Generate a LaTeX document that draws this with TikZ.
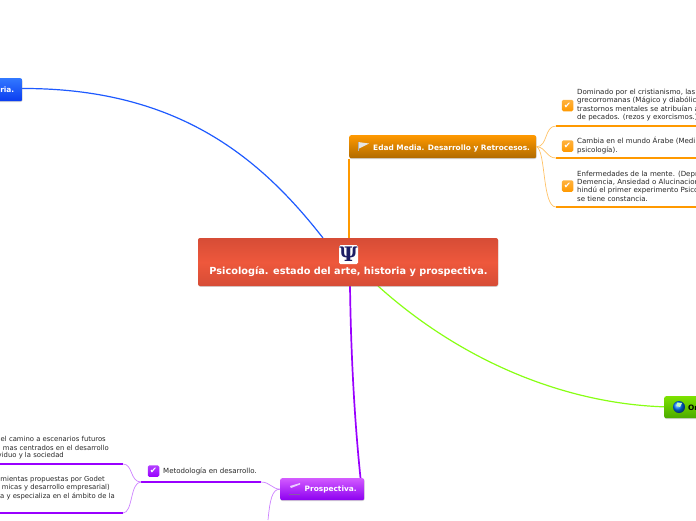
\documentclass[tikz,border=0pt]{standalone}
\usepackage{fontspec}
\setmainfont{DejaVu Sans}
\newfontfamily\psifont{DejaVu Serif}
\usetikzlibrary{calc,positioning,shadows}
\definecolor{mapred}{RGB}{238,88,60}
\definecolor{mapreddark}{RGB}{214,76,54}
\definecolor{maporange}{RGB}{255,153,0}
\definecolor{maporangedark}{RGB}{176,106,0}
\definecolor{mappurple}{RGB}{153,0,255}
\definecolor{mappurpletop}{RGB}{210,90,255}
\definecolor{mappurpledark}{RGB}{140,0,240}
\definecolor{mapblue}{RGB}{30,90,255}
\definecolor{mapbluetop}{RGB}{50,120,255}
\definecolor{mapbluedark}{RGB}{10,60,240}
\definecolor{mapgreen}{RGB}{136,255,20}
\definecolor{mapgreentop}{RGB}{125,225,0}
\definecolor{mapgreendark}{RGB}{75,170,0}
\definecolor{mappsi}{RGB}{30,30,100}
\definecolor{maptext}{RGB}{40,40,40}
\tikzset{
	boxbase/.style={rounded corners=2pt, inner sep=0pt, drop shadow={shadow xshift=0.4pt, shadow yshift=-0.8pt, opacity=0.35}},
	boxtext/.style={font=\fontsize{7.4}{9}\selectfont\bfseries, text=white, inner sep=0pt},
	leaftext/.style={font=\fontsize{7.05}{8.3}\selectfont, text=maptext, inner sep=0pt, align=left, anchor=west},
	cuttext/.style={font=\fontsize{6.85}{8.3}\selectfont, text=maptext, inner sep=0pt, anchor=east},
	checkicon/.style={rounded corners=1.5pt, minimum size=11.5pt, inner sep=0pt, text=white, top color=#1!75, bottom color=#1, font=\fontsize{8.5}{8.5}\selectfont},
	thinlink/.style={line width=0.7pt},
	underline/.style={line width=2pt}
}
\begin{document}
\begin{tikzpicture}[x=1pt,y=-1pt]
	\useasboundingbox (0,0) rectangle (696,520);
	\clip (0,0) rectangle (696,520);
	
	% main branches end here
	\coordinate (rootB) at (323,238);
	\coordinate (rootG) at (378,286);
	\coordinate (rootP) at (350,286);
	\coordinate (prospN) at (360.5,478);
	\coordinate (histE) at (22,88.5);
	\coordinate (origW) at (670,407);
	
	% connectors to the root
	\draw[mapblue, line width=1.2pt] (histE) .. controls (180,88) and (262,160) .. (rootB);
	\draw[mapgreen, line width=1.2pt] (rootG) .. controls (460,360) and (565,405) .. (origW);
	\draw[mappurple, line width=1.7pt] (rootP) .. controls (351,360) and (355,425) .. (prospN);
	
	% boxes
	\node[boxbase, minimum width=300pt, minimum height=48pt, top color=mapreddark, bottom color=mapreddark, middle color=mapred] (centro) at (348,262) {};
	\node[boxbase, anchor=north west, minimum width=187pt, minimum height=23pt, top color=maporange, bottom color=maporangedark] (edad) at (349,135) {};
	\node[boxbase, anchor=north west, minimum width=60pt, minimum height=23pt, top color=mapbluetop, bottom color=mapbluedark] (historia) at (-38,78) {};
	\node[boxbase, anchor=north west, minimum width=60pt, minimum height=22pt, top color=mapgreentop, bottom color=mapgreendark] (origen) at (664,396) {};
	\node[boxbase, anchor=north west, minimum width=84pt, minimum height=22pt, top color=mappurpletop, bottom color=mappurpledark] (prosp) at (280,478) {};
	
	% orange trunk, after the boxes
	\coordinate (edadS) at (349,158.5);
	\coordinate (rootO) at (349,238);
	\draw[maporange, line width=1.5pt] (edadS) -- (rootO);
	
	% box texts
	\node[boxtext, font=\fontsize{9.75}{9}\selectfont\bfseries] (centrotxt) at (348.5,272) {Psicología. estado del arte, historia y prospectiva.};
	\node[boxtext, anchor=west] (edadtxt) at (373,148) {Edad Media. Desarrollo y Retrocesos.};
	\node[boxtext, anchor=east] (historiatxt) at (14.5,90) {ria.};
	\node[boxtext, text=black, anchor=west] (origentxt) at (688,408) {Or};
	\node[boxtext, anchor=west] (prosptxt) at (304.5,489) {Prospectiva.};
	
	% psi icon
	\node[fill=white, rounded corners=1.5pt, minimum size=19pt, inner sep=0pt, text=mappsi, font=\fontsize{20}{20}\selectfont\psifont\bfseries] (psi) at (348.5,254.5) {Ψ};
	
	% flag, pencil and globe
	\fill[gray!20] (358,142) -- (369,143.5) -- (358,149) -- cycle;
	\draw[line width=0.5pt, gray!60] (358,142) -- (358,151);
	\fill[white!80!mappurple] (290,486) -- (300,483) -- (300,484.5) -- (291,488) -- cycle;
	\draw[line width=0.8pt, gray!70!mappurple] (289,494) -- (300,494);
	\shade[ball color=blue!55!cyan] (679,407) circle (6);
	\fill[white!75!green] (677,402.5) -- (682,403) -- (680,407) -- (677,406) -- cycle;
	
	% leaves of the orange branch
	\coordinate (u1a) at (556,126); \coordinate (u1b) at (696,126);
	\coordinate (u2a) at (556,158); \coordinate (u2b) at (696,158);
	\coordinate (u3a) at (556,207); \coordinate (u3b) at (696,207);
	\draw[underline, maporange] (u1a) -- (u1b);
	\draw[underline, maporange] (u2a) -- (u2b);
	\draw[underline, maporange] (u3a) -- (u3b);
	\draw[thinlink, maporange!60] (edad.east) .. controls (548,147) and (544,126) .. (u1a);
	\draw[thinlink, maporange!60] (edad.east) .. controls (546,147) and (546,158) .. (u2a);
	\draw[thinlink, maporange!60] (edad.east) .. controls (546,150) and (542,207) .. (u3a);
	
	\node[checkicon=maporange] (c1) at (567.5,105.5) {✔};
	\node[checkicon=maporange] (c2) at (567.5,146) {✔};
	\node[checkicon=maporange] (c3) at (567.5,186) {✔};
	
	\node[leaftext] (t1) at (577,105) {Dominado por el cristianismo, las\\grecorromanas (Mágico y diabólic\\trastornos mentales se atribuían a\\de pecados. (rezos y exorcismos.)};
	\node[leaftext] (t2) at (577,145.5) {Cambia en el mundo Árabe (Medi\\psicología).};
	\node[leaftext] (t3) at (577,186) {Enfermedades de la mente. (Depr\\Demencia, Ansiedad o Alucinacior\\hindú el primer experimento Psico\\se tiene constancia.};
	
	% purple branch
	\coordinate (m1) at (261,482); \coordinate (m2) at (141,482);
	\coordinate (v1) at (123,464); \coordinate (v2) at (0,464);
	\coordinate (v3) at (123,513); \coordinate (v4) at (0,513);
	\coordinate (pdown) at (268,520);
	\draw[underline, mappurple] (m1) -- (m2);
	\draw[underline, mappurple] (v1) -- (v2);
	\draw[underline, mappurple] (v3) -- (v4);
	\draw[thinlink, mappurple!50] (prosp.west) .. controls (272,489) and (270,482) .. (m1);
	\draw[thinlink, mappurple!50] (prosp.west) .. controls (272,489) and (270,500) .. (pdown);
	\draw[thinlink, mappurple!50] (m2) .. controls (130,482) and (133,464) .. (v1);
	\draw[thinlink, mappurple!50] (m2) .. controls (130,482) and (133,513) .. (v3);
	
	\node[checkicon=mappurple] (c4) at (153.5,471) {✔};
	\node[leaftext] (t4) at (163,471) {Metodología en desarrollo.};
	
	\node[cuttext] (t5a) at (106,438.5) {el camino a escenarios futuros};
	\node[cuttext] (t5b) at (109,447.5) {mas centrados en el desarrollo};
	\node[cuttext] (t5c) at (64,455.5) {viduo y la sociedad};
	\node[cuttext] (t6a) at (105,479.5) {mientas propuestas por Godet};
	\node[cuttext] (t6b) at (110,488) {micas y desarrollo empresarial)};
	\node[cuttext] (t6c) at (115,496.5) {a y especializa en el ámbito de la};
\end{tikzpicture}
\end{document}
